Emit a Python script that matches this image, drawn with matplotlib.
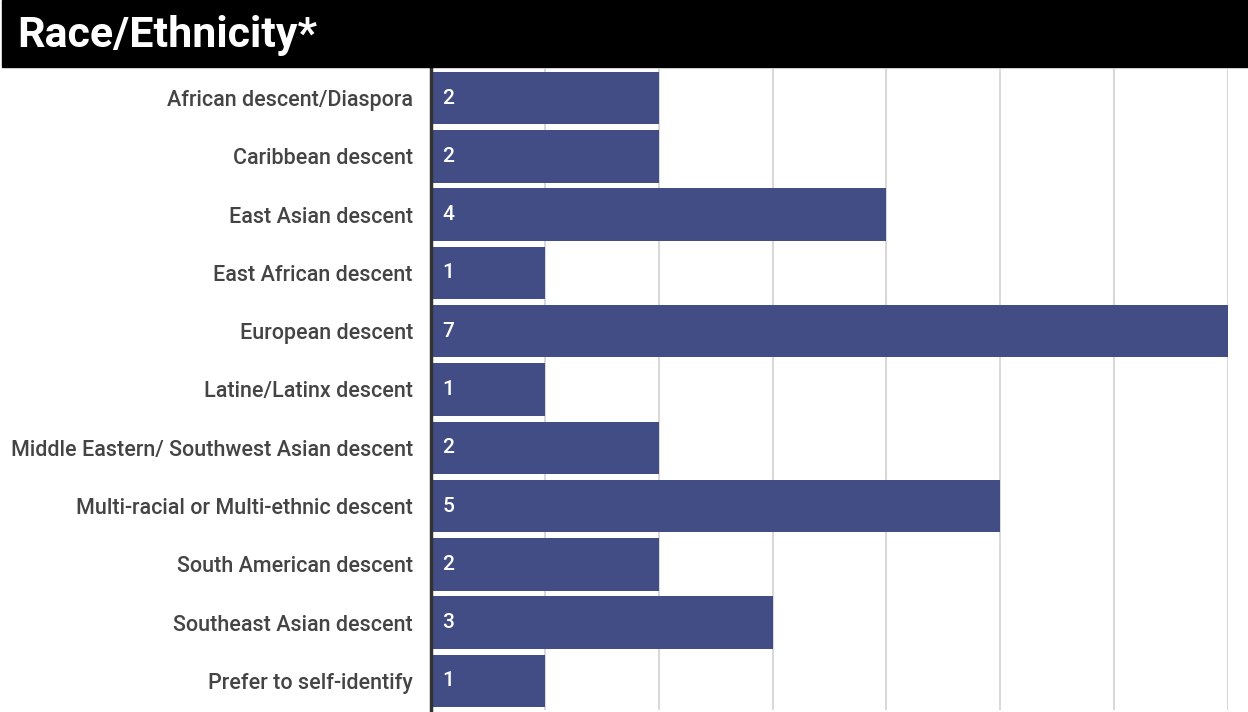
import matplotlib.pyplot as plt
from matplotlib.patches import Rectangle

plt.rcParams['font.family'] = ['Roboto', 'DejaVu Sans']

categories = [
    "African descent/Diaspora",
    "Caribbean descent",
    "East Asian descent",
    "East African descent",
    "European descent",
    "Latine/Latinx descent",
    "Middle Eastern/ Southwest Asian descent",
    "Multi-racial or Multi-ethnic descent",
    "South American descent",
    "Southeast Asian descent",
    "Prefer to self-identify",
]
counts = [2, 2, 4, 1, 7, 1, 2, 5, 2, 3, 1]

bar_color = "#434d85"

fig = plt.figure(figsize=(12.48, 7.12), dpi=100)

# black title strip
fig.patches.append(Rectangle((2 / 1248, 1 - 67 / 712), 1 - 2 / 1248, 67 / 712,
                             transform=fig.transFigure, color="black", zorder=0))
fig.text(17 / 1248, 1 - 36 / 712, "Race/Ethnicity*", color="white",
         fontsize=31, fontweight="bold", va="center", ha="left")

ax = fig.add_axes([431 / 1248, 2 / 712, (1228 - 431) / 1248, (710 - 69) / 712])

ypos = list(range(len(categories)))
ax.barh(ypos, counts, height=0.9, color=bar_color, zorder=2)

for y, v in zip(ypos, counts):
    ax.text(0.1, y, str(v), color="white", fontsize=15, fontweight="medium",
            va="center", ha="left", zorder=3)

ax.set_xlim(0, 7)
ax.set_ylim(len(categories) - 0.5, -0.5)
ax.set_xticks(range(0, 8))
ax.set_xticklabels([])
ax.tick_params(axis="x", length=0)
ax.set_yticks(ypos)
ax.set_yticklabels(categories, fontsize=15.5, color="#444444", fontweight="medium")
ax.tick_params(axis="y", length=0, pad=13)
ax.grid(axis="x", color="#d9d9d9", linewidth=1.5, zorder=0)
ax.set_axisbelow(True)
for s in ["top", "right", "bottom"]:
    ax.spines[s].set_visible(False)
ax.spines["left"].set_color("#333333")
ax.spines["left"].set_linewidth(2.5)
ax.spines["left"].set_zorder(4)

fig.savefig("out.png", dpi=100)
